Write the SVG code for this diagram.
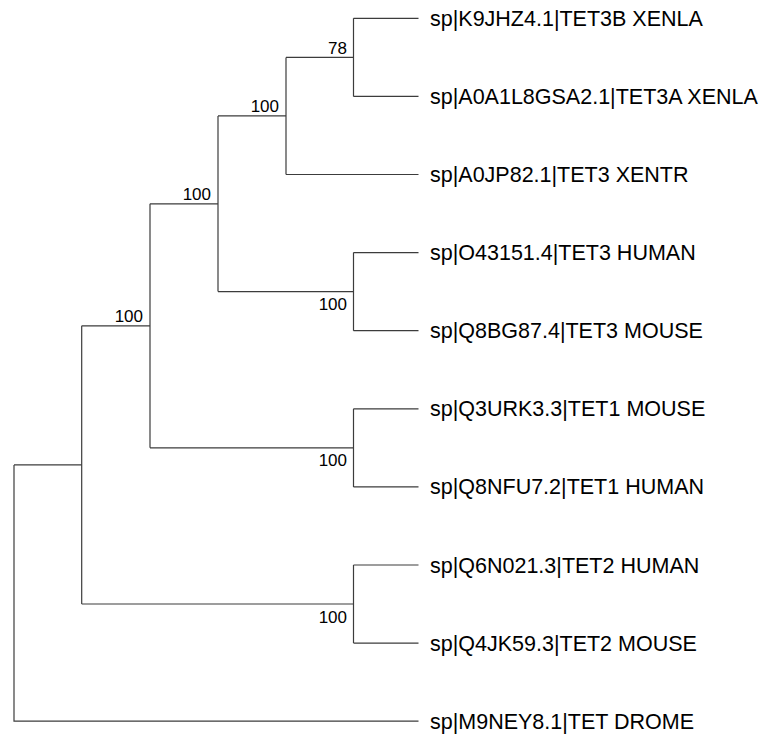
<svg xmlns="http://www.w3.org/2000/svg" width="761" height="734" viewBox="0 0 761 734">
<style>
.br{fill:none;stroke:#3c3c3c;stroke-width:1.2}
.leaf{font-family:"Liberation Sans",Arial,sans-serif;font-size:21.5px;fill:#000}
.bs{font-family:"Liberation Sans",Arial,sans-serif;font-size:17px;fill:#000;text-anchor:end}
</style>
<rect width="761" height="734" fill="#fff"/>
<g id="connectors">
<path class="br" d="M14 464.9V721.2H418.5"/>
<path class="br" d="M14 464.9H81.7"/>
<path class="br" d="M81.7 325.8V604M81.7 325.8H150M81.7 604H353.5"/>
<path class="br" d="M150 203.8V447.8M150 203.8H218M150 447.8H353.5"/>
<path class="br" d="M218 115.9V291.6M218 115.9H286M218 291.6H353.5"/>
<path class="br" d="M286 57.4V174.5M286 57.4H353.5M286 174.5H418.5"/>
<path class="br" d="M353.5 18.3V96.4M353.5 18.3H418.5M353.5 96.4H418.5"/>
<path class="br" d="M353.5 252.6V330.7M353.5 252.6H418.5M353.5 330.7H418.5"/>
<path class="br" d="M353.5 408.8V486.9M353.5 408.8H418.5M353.5 486.9H418.5"/>
<path class="br" d="M353.5 565V643.1M353.5 565H418.5M353.5 643.1H418.5"/>
</g>
<g id="node-xenla"><text class="bs" x="347" y="53.6">78</text></g>
<g id="node-xenopus"><text class="bs" x="279" y="112">100</text></g>
<g id="node-tet3"><text class="bs" x="211" y="200">100</text></g>
<g id="node-tet3-mammal"><text class="bs" x="347" y="310">100</text></g>
<g id="node-tet3-tet1"><text class="bs" x="143" y="322">100</text></g>
<g id="node-tet1"><text class="bs" x="347" y="466.3">100</text></g>
<g id="node-tet2"><text class="bs" x="347" y="622.8">100</text></g>
<g id="leaf-1"><text class="leaf" x="430" y="25.8">sp|K9JHZ4.1|TET3B XENLA</text></g>
<g id="leaf-2"><text class="leaf" x="430" y="103.9">sp|A0A1L8GSA2.1|TET3A XENLA</text></g>
<g id="leaf-3"><text class="leaf" x="430" y="182">sp|A0JP82.1|TET3 XENTR</text></g>
<g id="leaf-4"><text class="leaf" x="430" y="260.1">sp|O43151.4|TET3 HUMAN</text></g>
<g id="leaf-5"><text class="leaf" x="430" y="338.2">sp|Q8BG87.4|TET3 MOUSE</text></g>
<g id="leaf-6"><text class="leaf" x="430" y="416.3">sp|Q3URK3.3|TET1 MOUSE</text></g>
<g id="leaf-7"><text class="leaf" x="430" y="494.4">sp|Q8NFU7.2|TET1 HUMAN</text></g>
<g id="leaf-8"><text class="leaf" x="430" y="572.5">sp|Q6N021.3|TET2 HUMAN</text></g>
<g id="leaf-9"><text class="leaf" x="430" y="650.6">sp|Q4JK59.3|TET2 MOUSE</text></g>
<g id="leaf-10"><text class="leaf" x="430" y="728.7">sp|M9NEY8.1|TET DROME</text></g>
</svg>
